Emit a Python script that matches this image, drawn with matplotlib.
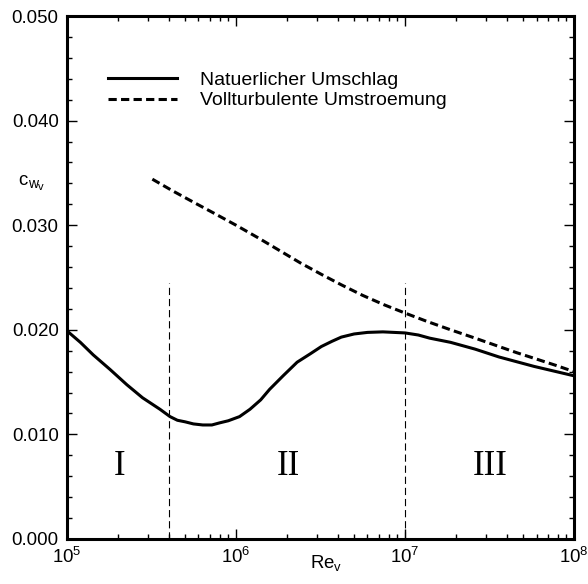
import matplotlib
matplotlib.use('Agg')
import matplotlib.pyplot as plt
from matplotlib.ticker import LogLocator, MultipleLocator, FormatStrFormatter, LogFormatterMathtext, NullFormatter

plt.rcParams['font.family'] = ['Liberation Sans', 'DejaVu Sans']
plt.rcParams['mathtext.fontset'] = 'custom'
plt.rcParams['mathtext.rm'] = 'Liberation Sans'
plt.rcParams['mathtext.it'] = 'Liberation Sans'
plt.rcParams['mathtext.bf'] = 'Liberation Sans:bold'

# Natuerlicher Umschlag (Widerstandsbeiwert ueber Reynoldszahl)
re_nat = [1e5, 1.2e5, 1.43e5, 1.8e5, 2.26e5, 2.8e5, 3.55e5, 4.07e5, 4.5e5, 5.0e5,
          5.6e5, 6.36e5, 7.2e5, 8.0e5, 9.0e5, 1.05e6, 1.21e6, 1.4e6, 1.58e6, 1.9e6,
          2.3e6, 2.75e6, 3.2e6, 3.7e6, 4.2e6, 5.0e6, 6.0e6, 7.4e6, 1e7, 1.2e7,
          1.4e7, 1.86e7, 2.6e7, 3.6e7, 5.8e7, 1e8]
cw_nat = [0.0199, 0.0188, 0.0176, 0.0162, 0.01475, 0.0135, 0.0124, 0.0117, 0.01135, 0.0112,
          0.0110, 0.0109, 0.0109, 0.0111, 0.0113, 0.0117, 0.0124, 0.0133, 0.0143, 0.0156,
          0.0169, 0.0177, 0.0184, 0.0189, 0.0193, 0.0196, 0.01975, 0.0198, 0.0197, 0.0195,
          0.0192, 0.0188, 0.01815, 0.0174, 0.0165, 0.0156]

# Vollturbulente Umstroemung
re_turb = [3.2e5, 4.2e5, 5.6e5, 7.5e5, 1e6, 1.35e6, 1.8e6, 2.4e6, 3.2e6, 4.2e6, 5.6e6,
           7.5e6, 1e7, 1.35e7, 1.86e7, 2.6e7, 3.6e7, 4.6e7, 6e7, 7.8e7, 1e8]
cw_turb = [0.0344, 0.0333, 0.0322, 0.0311, 0.0300, 0.0288, 0.0276, 0.0264, 0.0253, 0.0243, 0.0233,
           0.0224, 0.0216, 0.0208, 0.0200, 0.0192, 0.0184, 0.0178, 0.0172, 0.0166, 0.0160]

# Bereichsgrenzen und Bereichsnamen
re_grenzen = [4e5, 1e7]
grenze_hoehe = 0.0245
bereiche = ['I', 'II', 'III']
re_bereiche = [2.06e5, 2.03e6, 3.18e7]
cw_bereiche = 0.0069

fig = plt.figure(figsize=(5.88, 5.84), dpi=100)
ax = fig.add_axes([0.1139, 0.0771, 0.8623, 0.8955])

ax.plot(re_nat, cw_nat, color='black', lw=2.2, label='Natuerlicher Umschlag')
ax.plot(re_turb, cw_turb, color='black', lw=2.2, linestyle=(0, (2.7, 1.4)),
        label='Vollturbulente Umstroemung')

for re in re_grenzen:
    ax.plot([re, re], [0, grenze_hoehe], color='black', lw=0.8, linestyle=(0, (6.5, 3.5)))

for name, re in zip(bereiche, re_bereiche):
    ax.text(re, cw_bereiche, name, family='Liberation Serif', fontsize=25,
            ha='center', va='center')

ax.set_xscale('log')
ax.set_xlim(1e5, 1e8)
ax.set_ylim(0, 0.05)

ax.xaxis.set_major_locator(LogLocator(base=10))
ax.xaxis.set_minor_locator(LogLocator(base=10, subs=range(2, 10)))
ax.xaxis.set_major_formatter(LogFormatterMathtext())
ax.xaxis.set_minor_formatter(NullFormatter())
ax.yaxis.set_major_locator(MultipleLocator(0.01))
ax.yaxis.set_minor_locator(MultipleLocator(0.002))
ax.yaxis.set_major_formatter(FormatStrFormatter('%.3f'))

ax.tick_params(which='both', direction='in', top=True, right=True, width=1.0, labelsize=13.4)
ax.tick_params(which='major', length=7, pad=6)
ax.tick_params(which='minor', length=3.6)
for s in ax.spines.values():
    s.set_linewidth(2.2)

# Achsentitel: Re_v unten, c_w_v links (Indizes als eigene Texte)
fig.text(0.527, 0.0274, r'$\mathregular{Re_v}$', fontsize=13.4, ha='left', va='baseline')
fig.text(0.0306, 0.6832, 'c', fontsize=13.4, ha='left', va='baseline')
fig.text(0.0476, 0.6785, 'w', fontsize=10, ha='left', va='baseline')
fig.text(0.0640, 0.6750, 'v', fontsize=8, ha='left', va='baseline')

ax.legend(loc='upper left', bbox_to_anchor=(0.08, 0.895), frameon=False,
          fontsize=14, handlelength=3.55, handletextpad=1.2, labelspacing=0.17,
          borderpad=0, borderaxespad=0)

fig.savefig('out.png', dpi=100)
